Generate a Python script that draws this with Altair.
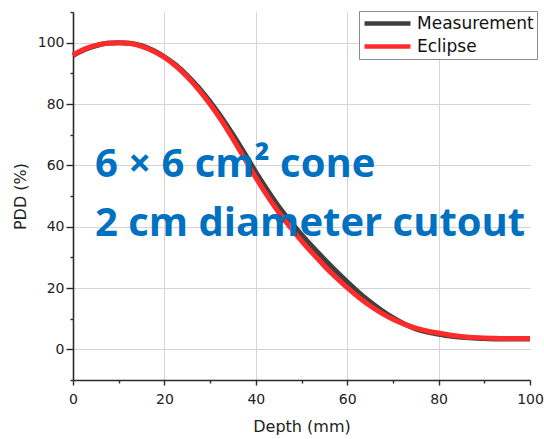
import altair as alt
import pandas as pd

# Depth grid (mm) shared by both depth-dose curves
depth = [0, 2.5, 5, 7.5, 10, 12.5, 15, 17.5, 20, 22.5, 25, 27.5, 30, 32.5, 35,
         37.5, 40, 42.5, 45, 47.5, 50, 52.5, 55, 57.5, 60, 62.5, 65, 67.5, 70,
         72.5, 75, 77.5, 80, 82.5, 85, 87.5, 90, 92.5, 95, 97.5, 100]

# Percent depth dose, measured
pdd_measurement = [95.8, 97.7, 99.0, 99.8, 100.0, 99.8, 99.0, 97.5, 95.4, 92.7,
                   89.3, 85.3, 80.7, 75.6, 70.0, 64.0, 57.8, 52.0, 46.6, 41.8,
                   37.4, 33.3, 29.4, 25.6, 22.0, 18.6, 15.5, 12.7, 10.3, 8.3,
                   6.7, 5.6, 4.9, 4.3, 3.9, 3.7, 3.5, 3.4, 3.4, 3.4, 3.4]

# Percent depth dose, Eclipse calculation
pdd_eclipse = [96.0, 97.9, 99.1, 99.8, 100.0, 99.7, 98.8, 97.3, 95.2, 92.4,
               88.9, 84.7, 79.9, 74.6, 68.6, 62.3, 56.0, 50.1, 44.7, 39.9,
               35.4, 31.2, 27.2, 23.5, 20.1, 17.0, 14.2, 11.8, 9.8, 8.2,
               6.9, 6.0, 5.3, 4.7, 4.2, 3.9, 3.7, 3.6, 3.5, 3.5, 3.5]

series_names = ["Measurement", "Eclipse"]
series_colors = ["#3f3f3f", "#ff2b2b"]

annotation_lines = ["6 × 6 cm² cone", "2 cm diameter cutout"]

# Major ticks every 20, minor ticks in between
x_ticks = [0, 10, 20, 30, 40, 50, 60, 70, 80, 90, 100]
y_ticks = [-10, 0, 10, 20, 30, 40, 50, 60, 70, 80, 90, 100, 110]

df_meas = pd.DataFrame({"depth": depth, "pdd": pdd_measurement, "series": series_names[0]})
df_ecl = pd.DataFrame({"depth": depth, "pdd": pdd_eclipse, "series": series_names[1]})

major = "datum.value % 20 == 0"
x_grid = "datum.value % 20 == 0 && datum.value > 0 && datum.value < 100"
y_major = "datum.value % 20 == 0 && datum.value >= 0 && datum.value <= 100"

x_scale = alt.Scale(domain=[0, 100], nice=False)
y_scale = alt.Scale(domain=[-10, 110], nice=False)

x_axis = alt.Axis(
    title="Depth (mm)",
    values=x_ticks,
    labelExpr=f"{major} ? datum.label : ''",
    labelOverlap=False,
    labelFlush=False,
    tickSize=alt.condition(major, alt.value(5), alt.value(3)),
    gridOpacity=alt.condition(x_grid, alt.value(1), alt.value(0)),
    labelPadding=7,
    titlePadding=12,
)
y_axis = alt.Axis(
    title="PDD (%)",
    values=y_ticks,
    labelExpr=f"{y_major} ? datum.label : ''",
    labelOverlap=False,
    labelFlush=False,
    tickSize=alt.condition(y_major, alt.value(7), alt.value(3)),
    gridOpacity=alt.condition(y_major, alt.value(1), alt.value(0)),
    labelPadding=2,
    titlePadding=9,
)

x_enc = alt.X("depth:Q", scale=x_scale, axis=x_axis)
y_enc = alt.Y("pdd:Q", scale=y_scale, axis=y_axis)
color_enc = alt.Color(
    "series:N",
    scale=alt.Scale(domain=series_names, range=series_colors),
    legend=alt.Legend(
        title=None,
        orient="none",
        legendX=286,
        legendY=-1,
        symbolType="stroke",
        symbolSize=2116,
        symbolStrokeWidth=4.5,
        labelFontSize=17,
        labelFont="DejaVu Sans",
        labelColor="#111111",
        labelOffset=4,
        padding=3,
        clipHeight=19,
        rowPadding=4,
        strokeColor="#8a8a8a",
        fillColor="#ffffff",
    ),
)

meas_line = alt.Chart(df_meas).mark_line(strokeWidth=5, interpolate="monotone").encode(
    x=x_enc, y=y_enc, color=color_enc
)
ecl_line = alt.Chart(df_ecl).mark_line(strokeWidth=5, interpolate="monotone").encode(
    x=x_enc, y=y_enc, color=color_enc
)

label = alt.Chart().mark_text(
    font="Open Sans",
    fontWeight="bold",
    fontSize=40,
    color="#0070c0",
    align="left",
    baseline="alphabetic",
    lineHeight=59,
).encode(
    x=alt.XDatum(4.8, type="quantitative", scale=x_scale, axis=x_axis, title="Depth (mm)"),
    y=alt.YDatum(56.3, type="quantitative", scale=y_scale, axis=y_axis, title="PDD (%)"),
    text=alt.value(annotation_lines),
)

chart = (
    alt.layer(meas_line, ecl_line, label)
    .properties(
        width=457,
        height=368,
        autosize=alt.AutoSizeParams(type="none"),
        padding={"left": 73, "top": 12, "right": 14, "bottom": 59},
        background="#ffffff",
    )
    .configure_view(strokeWidth=0)
    .configure_axis(
        labelFont="DejaVu Sans",
        labelFontSize=14,
        labelColor="#222222",
        titleFont="DejaVu Sans",
        titleFontSize=16,
        titleFontWeight="normal",
        titleColor="#222222",
        domainColor="#2a2a2a",
        domainWidth=1.6,
        tickColor="#2a2a2a",
        tickWidth=1.4,
        gridColor="#d4d4d4",
        gridWidth=1,
    )
)

chart.save("out.html", embed_options={"renderer": "svg", "actions": False})
